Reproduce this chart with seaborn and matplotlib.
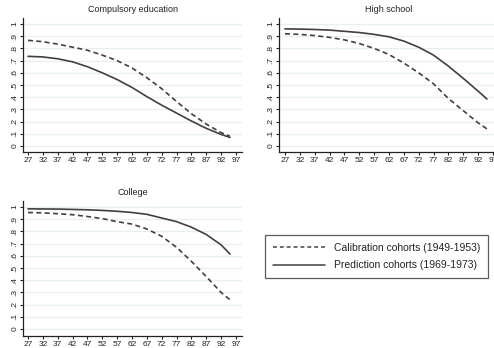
import matplotlib
matplotlib.use("Agg")
import matplotlib.pyplot as plt
import seaborn as sns
import pandas as pd
from matplotlib.lines import Line2D

sns.set_style("white")
plt.rcParams['font.family'] = ['Liberation Sans', 'DejaVu Sans']

ages = [27, 32, 37, 42, 47, 52, 57, 62, 67, 72, 77, 82, 87, 92, 95]

comp_calib = [0.866, 0.855, 0.835, 0.81, 0.785, 0.745, 0.70, 0.64, 0.56, 0.47, 0.365, 0.265, 0.18, 0.11, 0.08]
comp_pred  = [0.735, 0.73, 0.715, 0.69, 0.65, 0.60, 0.545, 0.48, 0.405, 0.335, 0.27, 0.205, 0.145, 0.095, 0.07]

hs_calib = [0.92, 0.915, 0.905, 0.89, 0.87, 0.84, 0.80, 0.75, 0.68, 0.60, 0.51, 0.39, 0.29, 0.19, 0.14]
hs_pred  = [0.96, 0.958, 0.955, 0.95, 0.94, 0.93, 0.915, 0.895, 0.86, 0.81, 0.745, 0.655, 0.555, 0.45, 0.385]

col_calib = [0.955, 0.952, 0.945, 0.937, 0.922, 0.905, 0.88, 0.86, 0.82, 0.76, 0.67, 0.555, 0.43, 0.30, 0.24]
col_pred  = [0.985, 0.984, 0.983, 0.98, 0.977, 0.972, 0.965, 0.955, 0.94, 0.91, 0.88, 0.835, 0.775, 0.69, 0.615]

panels = [
    ("Compulsory education", comp_calib, comp_pred),
    ("High school", hs_calib, hs_pred),
    ("College", col_calib, col_pred),
]
series_names = ["Calibration cohorts (1949-1953)", "Prediction cohorts (1969-1973)"]

xticks = list(range(27, 98, 5))
yticks = [i / 10 for i in range(11)]
yticklabels = ["0"] + ["." + str(i) for i in range(1, 10)] + ["1"]

W, H = 494, 348
fig = plt.figure(figsize=(W / 100, H / 100), dpi=100)

px = 2.97
ypx = 122
boxes = [(23, 242, 18, 152), (279, 498, 18, 152), (23, 242, 201, 336)]
x0px = [28, 285, 28]
y0px = [146, 146, 329]

line_color = "#404040"
grid_color = "#e6eff1"
text_color = "#222222"

for (title, calib, pred), (l, r, t, b), xz, yz in zip(panels, boxes, x0px, y0px):
    ax = fig.add_axes([l / W, (H - b) / H, (r - l) / W, (b - t) / H])
    df = pd.DataFrame({
        "age": ages * 2,
        "value": calib + pred,
        "series": [series_names[0]] * len(ages) + [series_names[1]] * len(ages),
    })
    sns.lineplot(data=df, x="age", y="value", style="series",
                 style_order=series_names,
                 dashes={series_names[0]: (3, 2), series_names[1]: ""},
                 color=line_color, linewidth=1.2, ax=ax, legend=False)
    ax.set_xlim(27 - (xz - l) / px, 27 + (r - xz) / px)
    ax.set_ylim(-(b - yz) / ypx, 1 + (yz - ypx - t) / ypx)
    ax.set_xticks(xticks)
    ax.set_xticklabels([str(v) for v in xticks], fontsize=6, color=text_color)
    ax.set_yticks(yticks)
    ax.set_yticklabels(yticklabels, fontsize=6, rotation=90, va="center", color=text_color)
    ax.grid(axis="y", color=grid_color, linewidth=0.9)
    ax.grid(axis="x", visible=False)
    for s in ["top", "right"]:
        ax.spines[s].set_visible(False)
    for s in ["left", "bottom"]:
        ax.spines[s].set_color(text_color)
        ax.spines[s].set_linewidth(0.9)
    ax.tick_params(axis="both", direction="out", length=2.2, width=0.8, color=text_color, pad=1.2,
                   bottom=True, left=True)
    ax.set_xlabel("")
    ax.set_ylabel("")
    ax.set_title(title, fontsize=6.5, pad=4, color=text_color)

handles = [Line2D([], [], color=line_color, linewidth=1.1, dashes=(2.5, 2)),
           Line2D([], [], color=line_color, linewidth=1.1)]
leg = fig.legend(handles, series_names, loc="center",
                 bbox_to_anchor=((265 + 488) / 2 / W, 1 - (235 + 278) / 2 / H),
                 fontsize=7.5, frameon=True, fancybox=False, handlelength=5.0,
                 handletextpad=0.9, borderpad=0.75, labelspacing=0.7, borderaxespad=0)
leg.get_frame().set_edgecolor("#333333")
leg.get_frame().set_linewidth(0.9)
for tx in leg.get_texts():
    tx.set_color(text_color)

fig.savefig("out.png", dpi=100)
